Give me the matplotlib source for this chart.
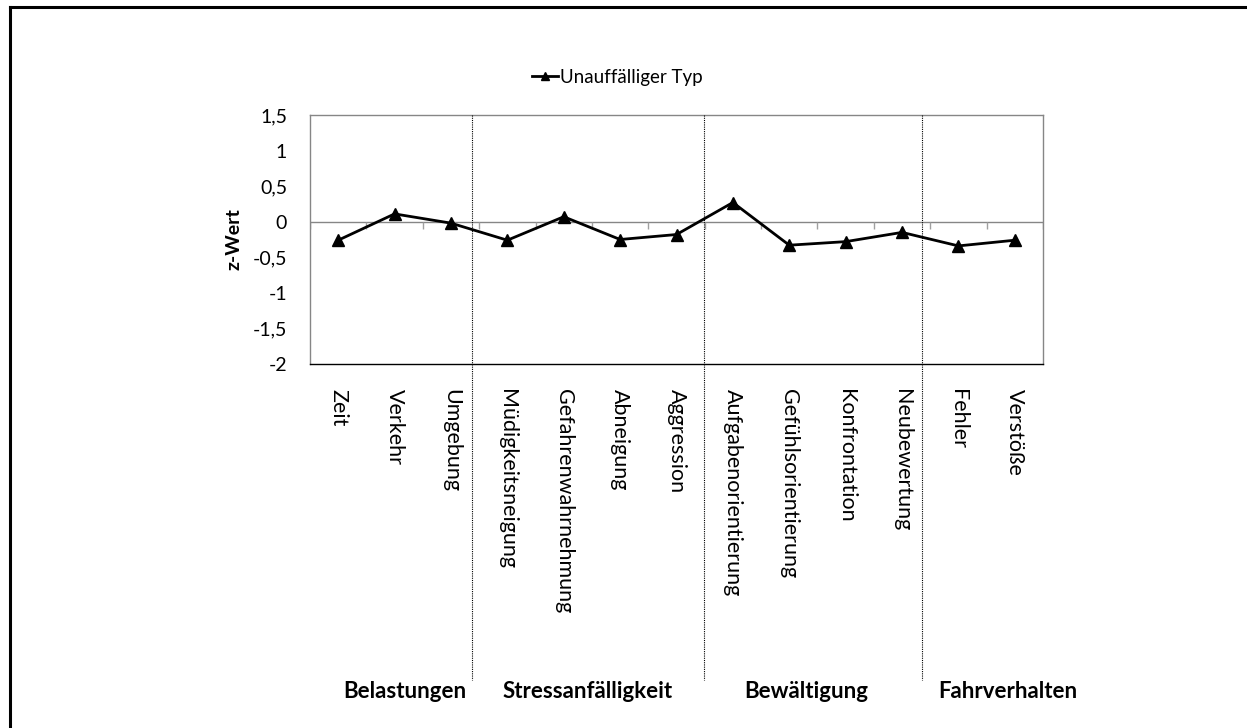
import numpy as np
import matplotlib
matplotlib.use("Agg")
import matplotlib.pyplot as plt
import matplotlib.transforms as mtransforms
from matplotlib.lines import Line2D
from matplotlib.ticker import FuncFormatter

plt.rcParams['font.family'] = ['Lato', 'DejaVu Sans']

# ---- data ----
categories = ["Zeit", "Verkehr", "Umgebung", "Müdigkeitsneigung", "Gefahrenwahrnehmung",
              "Abneigung", "Aggression", "Aufgabenorientierung", "Gefühlsorientierung",
              "Konfrontation", "Neubewertung", "Fehler", "Verstöße"]
z_values = [-0.26, 0.11, -0.02, -0.26, 0.07, -0.25, -0.18, 0.27, -0.33, -0.28, -0.15, -0.34, -0.26]
series_name = "Unauffälliger Typ"
groups = ["Belastungen", "Stressanfälligkeit", "Bewältigung", "Fahrverhalten"]
y_ticks = [-2, -1.5, -1, -0.5, 0, 0.5, 1, 1.5]

W, H = 1247, 728
fig = plt.figure(figsize=(W / 100, H / 100), dpi=100)
ax = fig.add_axes([310 / W, 1 - 364 / H, (1043 - 310) / W, (364 - 115) / H])

x = np.arange(len(categories))
ax.plot(x, z_values, color="black", lw=2.0, marker="^", markersize=8, label=series_name, zorder=5)

ax.set_xlim(-0.5, len(categories) - 0.5)
ax.set_ylim(-2, 1.5)
ax.set_yticks(y_ticks)
ax.yaxis.set_major_formatter(FuncFormatter(lambda v, p: f"{v:g}".replace(".", ",")))
ax.tick_params(axis="y", length=0, labelsize=14, pad=16.5)
ax.set_xticks([])
ax.set_ylabel("z-Wert", fontweight="bold", fontsize=14, labelpad=7)

for s in ["left", "top", "right"]:
    ax.spines[s].set_color("#868686")
ax.spines["bottom"].set_color("black")
for s in ax.spines.values():
    s.set_linewidth(1.0)

# zero line with small ticks at category boundaries
ax.axhline(0, color="#868686", lw=1.0, zorder=1)
bounds = np.arange(len(categories) + 1) - 0.5
ax.vlines(bounds, -0.1, 0, color="#a0a0a0", lw=1.0, zorder=1)

# category labels below the plot
trans = mtransforms.blended_transform_factory(ax.transData, fig.transFigure)
for xi, lab in zip(x, categories):
    ax.text(xi, 1 - 389 / H, lab, rotation=-90, ha="center", va="top",
            fontsize=15.5, transform=trans)

# dotted group dividers
for xd in [2.37, 6.49, 10.35]:
    fig.add_artist(Line2D([xd, xd], [1 - 115 / H, 1 - 680 / H], transform=trans,
                          color="black", lw=0.8, ls=(0, (1, 1))))

# group labels
for xg, g in zip([1.18, 4.43, 8.31, 11.88], groups):
    ax.text(xg, 1 - 691 / H, g, ha="center", va="center", fontsize=16,
            fontweight="bold", transform=trans)

fig.legend(loc="center", bbox_to_anchor=(617 / W, 1 - 77 / H), frameon=False,
           fontsize=13.5, handlelength=1.4, handletextpad=0.1, markerscale=0.8)

# outer frame (top and left edges)
fig.add_artist(Line2D([10 / W, 10 / W], [0, 1 - 7 / H], transform=fig.transFigure,
                      color="black", lw=2.2))
fig.add_artist(Line2D([10 / W, 1], [1 - 7 / H, 1 - 7 / H], transform=fig.transFigure,
                      color="black", lw=2.2))

fig.savefig("out.png", dpi=100)
